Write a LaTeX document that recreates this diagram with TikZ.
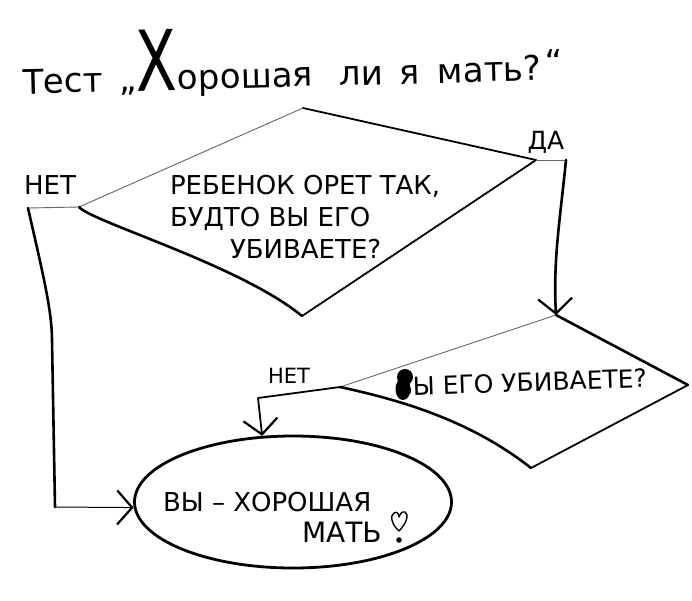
\documentclass[tikz,border=0pt]{standalone}
\usepackage{fontspec}
\setmainfont{DejaVu Sans}
\usetikzlibrary{arrows.meta,shapes.geometric}
\begin{document}
\begin{tikzpicture}[x=1pt,y=-1pt,
  thickline/.style={line width=2.6pt, line cap=round, line join=round},
  medline/.style={line width=1.8pt, line cap=round, line join=round},
  thinline/.style={line width=0.9pt, draw=black!60, line cap=round},
  arr/.style={-{Straight Barb[length=15pt,width=34pt,line width=2.2pt]}},
  txt/.style={inner sep=0pt, outer sep=0pt, text=black}
]
\useasboundingbox[fill=white] (0,0) rectangle (692,600);

% title
\node[txt, anchor=base west, rotate=1.5, font=\fontsize{34}{34}\selectfont] (title) at (23,94)
  {Тест\hspace{16pt}„\scalebox{1}[1.4]{\fontsize{60}{60}\selectfont Х}орошая\hspace{26pt}ли\hspace{16pt}я\hspace{18pt}мать?\hspace{4pt}\raisebox{6pt}{“}};

% decision 1
\coordinate (t1) at (303,108);
\coordinate (r1) at (536,160);
\coordinate (b1) at (302,316);
\coordinate (l1) at (79,207);
\draw[medline] (t1) -- (r1);
\draw[thinline] (l1) -- (t1);
\draw[thickline] (l1) .. controls (92,222) and (240,265) .. (b1);
\draw[medline] (b1) -- (r1);
\node[txt, anchor=north west, align=left, font=\fontsize{26}{32}\selectfont] (q1) at (170,175)
  {РЕБЕНОК ОРЕТ ТАК,\\БУДТО ВЫ ЕГО\\\hspace*{60pt}УБИВАЕТЕ?};

% decision 2
\coordinate (t2) at (556,315);
\coordinate (r2) at (688,385);
\coordinate (b2) at (531,468);
\coordinate (l2) at (340,387);
\draw[thinline] (l2) -- (t2);
\draw[thickline] (t2) -- (r2);
\draw[medline] (r2) -- (b2);
\draw[thickline] (l2) .. controls (400,400) and (470,420) .. (b2);
\node[txt, anchor=base west, rotate=2, font=\fontsize{25}{30}\selectfont] (q2) at (396,396)
  {ВЫ ЕГО УБИВАЕТЕ?};
\fill (405,377) circle [radius=8];
\fill (403,389) ellipse [x radius=7.5, y radius=11];

% terminal
\node[draw, ellipse, line width=2.8pt, minimum width=317pt, minimum height=132pt, inner sep=0pt] (good) at (293,502) {};
\node[txt, anchor=north west, align=left, font=\fontsize{26}{31}\selectfont] (goodtxt) at (163,492)
  {ВЫ – ХОРОШАЯ\\\hspace*{139pt}{\fontsize{28}{31}\selectfont МАТЬ}};
% heart-shaped exclamation mark
\draw[line width=1.4pt, line join=round]
  (399,531) .. controls (391,524) and (390,515) .. (394,513)
  .. controls (397,511) and (399,514) .. (399,517)
  .. controls (400,514) and (402,511) .. (405,512)
  .. controls (409,514) and (407,523) .. (399,531) -- cycle;
\fill (399,540) circle [radius=2.8];

% labels
\node[txt, font=\fontsize{26}{26}\selectfont] (no1) at (50,185) {НЕТ};
\node[txt, font=\fontsize{25}{25}\selectfont] (yes) at (546,142) {ДА};
\node[txt, font=\fontsize{21}{21}\selectfont] (no2) at (289,376) {НЕТ};

% connectors
\coordinate (n1) at (28,208);
\coordinate (n1b) at (55,507);
\coordinate (y1) at (566,160);
\coordinate (n2) at (258,398);
\draw[thinline] (l1) -- (n1);
\draw[thickline] (n1) .. controls (42,270) and (52,310) .. (52,340) -- (n1b);
\draw[line width=1pt, arr] (n1b) -- (good.182);
\draw[thinline] (r1) -- (y1);
\draw[thickline, arr] (y1) .. controls (560,220) and (553,260) .. (t2);
\draw[medline] (l2) -- (n2);
\draw[medline, arr] (n2) -- (good.115);
\end{tikzpicture}
\end{document}
